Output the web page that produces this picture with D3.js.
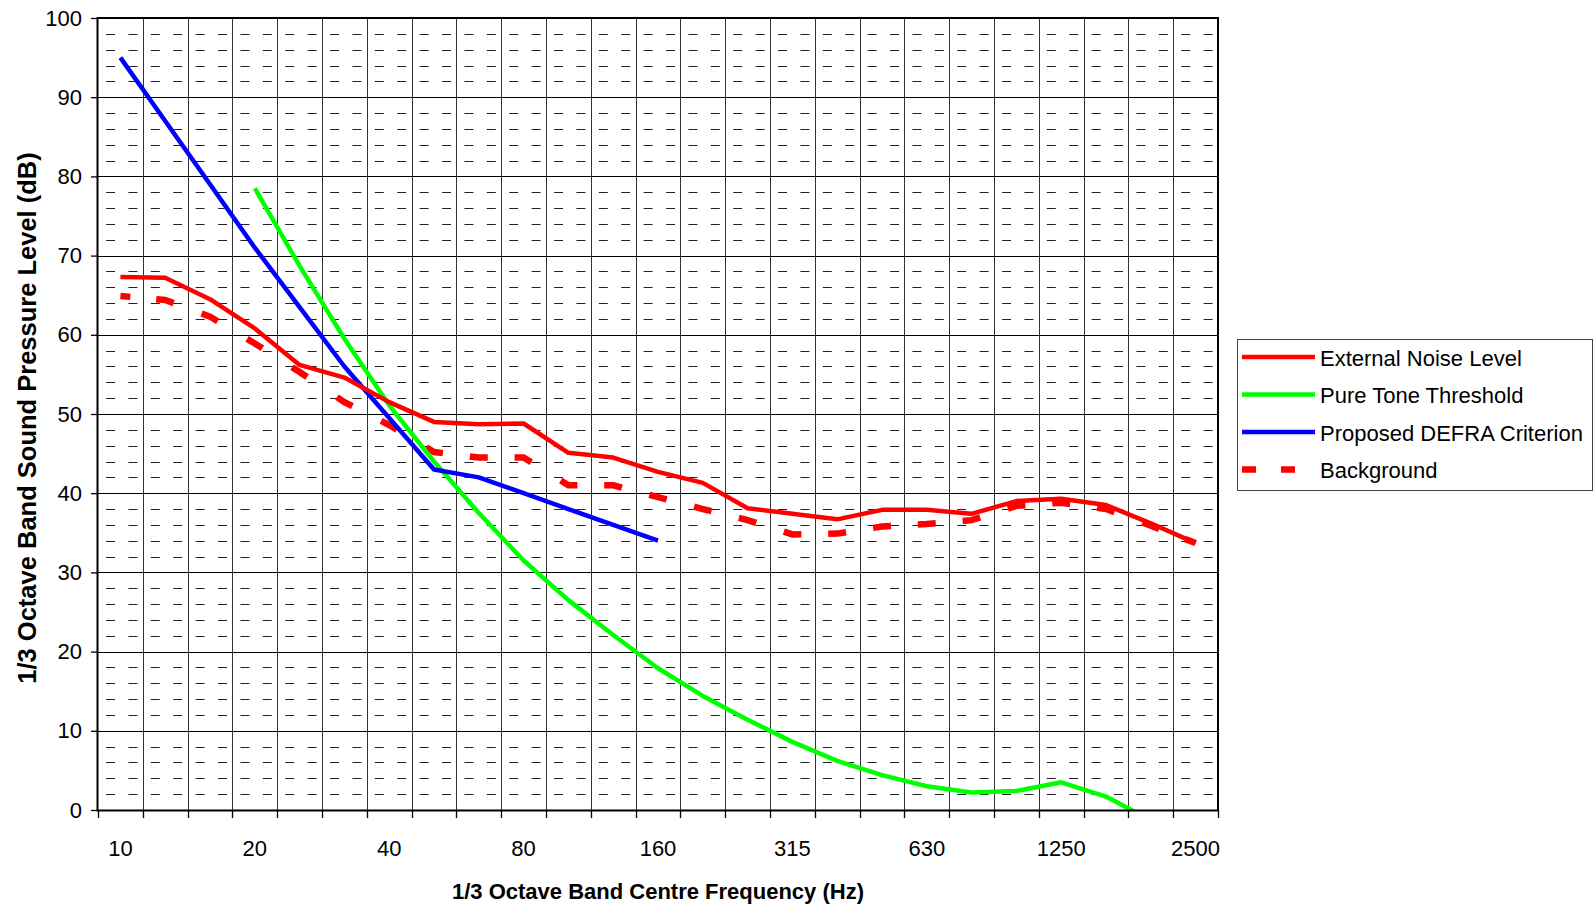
<!DOCTYPE html>
<html>
<head>
<meta charset="utf-8">
<script src="https://cdn.jsdelivr.net/npm/d3@7"></script>
<style>
  html, body { margin: 0; padding: 0; background: #fff; }
  svg { display: block; font-family: "Liberation Sans", Arial, Helvetica, sans-serif; }
</style>
</head>
<body>
<svg id="chart" width="1596" height="908"></svg>
<script>
// ---- data ----
const bands = ["10","12.5","16","20","25","31.5","40","50","63","80","100","125","160","200","250","315","400","500","630","800","1000","1250","1600","2000","2500"];
const tickLabels = ["10","20","40","80","160","315","630","1250","2500"];
const yTicks = [0,10,20,30,40,50,60,70,80,90,100];
const externalNoise = [67.3,67.2,64.5,60.8,56.2,54.6,51.5,49.0,48.7,48.8,45.1,44.5,42.7,41.3,38.1,37.4,36.7,37.9,37.9,37.4,39.0,39.3,38.5,36.2,33.7];
const pureTone = [null,null,null,78.5,68.7,59.5,51.1,44.0,37.5,31.5,26.5,22.1,17.9,14.4,11.4,8.6,6.2,4.4,3.0,2.2,2.4,3.5,1.7,-1.3,-4.2];
const defra = [95,87,79,71,63.5,56,49.5,43,42,40,38,36,34,null,null,null,null,null,null,null,null,null,null,null,null];
const background = [64.9,64.4,62.3,58.9,55.3,51.5,48.6,45.2,44.5,44.5,41.0,41.0,39.5,38.0,36.6,34.8,34.9,35.8,36.1,36.6,38.4,38.8,38.0,35.9,33.7];
const seriesNames = ["External Noise Level","Pure Tone Threshold","Proposed DEFRA Criterion","Background"];

// ---- layout ----
const L = 98, R = 1218, T = 18, B = 810;
const svg = d3.select("#chart");
const x = d3.scaleBand().domain(bands).range([L, R]).padding(0);
const y = d3.scaleLinear().domain([0, 100]).range([B, T]);
const cx = b => x(b) + x.bandwidth() / 2;

// clip
svg.append("defs").append("clipPath").attr("id", "plotclip")
  .append("rect").attr("x", L).attr("y", T).attr("width", R - L).attr("height", B - T);

// minor horizontal dashed grid
const minor = d3.range(2, 100, 2).filter(v => v % 10 !== 0);
svg.append("g").selectAll("line").data(minor).join("line")
  .attr("x1", L).attr("x2", R)
  .attr("y1", d => Math.round(y(d)) + 0.5).attr("y2", d => Math.round(y(d)) + 0.5)
  .attr("stroke", "#222").attr("stroke-width", 1)
  .attr("stroke-dasharray", `9 ${x.bandwidth()/2 - 9}`)
  .attr("stroke-dashoffset", x.bandwidth()/2 - 8);

// major horizontal grid
svg.append("g").selectAll("line").data(yTicks.filter(v => v > 0 && v < 100)).join("line")
  .attr("x1", L).attr("x2", R)
  .attr("y1", d => Math.round(y(d)) + 0.5).attr("y2", d => Math.round(y(d)) + 0.5)
  .attr("stroke", "#000").attr("stroke-width", 1);

// vertical grid at band boundaries
const bounds = d3.range(bands.length + 1).map(i => L + i * x.bandwidth());
svg.append("g").selectAll("line").data(bounds.slice(1, -1)).join("line")
  .attr("x1", d => Math.round(d) + 0.5).attr("x2", d => Math.round(d) + 0.5)
  .attr("y1", T).attr("y2", B)
  .attr("stroke", "#333").attr("stroke-width", 1);

// x tick marks
svg.append("g").selectAll("line").data(bounds).join("line")
  .attr("x1", d => Math.round(d) + 0.5).attr("x2", d => Math.round(d) + 0.5)
  .attr("y1", B).attr("y2", B + 8)
  .attr("stroke", "#000").attr("stroke-width", 1.3);

// x tick labels
svg.append("g").selectAll("text").data(tickLabels).join("text")
  .attr("x", d => cx(d)).attr("y", 848)
  .attr("text-anchor", "middle").attr("dominant-baseline", "central")
  .attr("font-size", 22).attr("fill", "#000").text(d => d);

// y axis
const yAxis = d3.axisLeft(y).tickValues(yTicks).tickSizeInner(7).tickSizeOuter(0).tickPadding(9);
const gy = svg.append("g").attr("transform", `translate(${L},0)`).call(yAxis);
gy.select(".domain").remove();
gy.selectAll("line").attr("stroke", "#000").attr("stroke-width", 1.3);
gy.selectAll("text").attr("font-size", 22).attr("fill", "#000")
  .attr("font-family", "'Liberation Sans', Arial, sans-serif");

// series lines
const line = d3.line()
  .defined(d => d.v !== null)
  .x(d => cx(d.b)).y(d => y(d.v));
const toPts = arr => arr.map((v, i) => ({ b: bands[i], v: v }));
const plot = svg.append("g").attr("clip-path", "url(#plotclip)");

// background dashed: dash centred on each data point
const bgPts = toPts(background);
const segLens = bgPts.slice(1).map((p, i) => {
  const a = bgPts[i];
  return Math.hypot(cx(p.b) - cx(a.b), y(p.v) - y(a.v));
});
const half = 9;
const dash = [half + 1];
segLens.forEach((len, i) => {
  const isFirst = i === 0, isLast = i === segLens.length - 1;
  const g = len - (isFirst ? half + 1 : half) - (isLast ? half + 2 : half);
  dash.push(Math.max(g, 1));
  dash.push(isLast ? half + 2 : 2 * half);
});
plot.append("path").datum(bgPts).attr("d", line)
  .attr("fill", "none").attr("stroke", "#ff0000").attr("stroke-width", 6.5)
  .attr("stroke-dasharray", dash.join(" "));

plot.append("path").datum(toPts(pureTone)).attr("d", line)
  .attr("fill", "none").attr("stroke", "#00ff00").attr("stroke-width", 4.5).attr("stroke-linejoin", "round");
plot.append("path").datum(toPts(defra)).attr("d", line)
  .attr("fill", "none").attr("stroke", "#0000ff").attr("stroke-width", 4.5).attr("stroke-linejoin", "round");
plot.append("path").datum(toPts(externalNoise)).attr("d", line)
  .attr("fill", "none").attr("stroke", "#ff0000").attr("stroke-width", 4.5).attr("stroke-linejoin", "round");

// plot border
svg.append("rect").attr("x", L - 0.5).attr("y", T).attr("width", R - L + 0.5).attr("height", B - T + 0.5)
  .attr("fill", "none").attr("stroke", "#000").attr("stroke-width", 2);

// axis titles
svg.append("text").attr("x", (L + R) / 2).attr("y", 899)
  .attr("text-anchor", "middle").attr("font-size", 22).attr("font-weight", "bold")
  .attr("fill", "#000").text("1/3 Octave Band Centre Frequency (Hz)");
svg.append("text").attr("transform", `translate(27,${(T + B) / 2 + 4}) rotate(-90)`)
  .attr("text-anchor", "middle").attr("dominant-baseline", "central")
  .attr("font-size", 25.5).attr("font-weight", "bold")
  .attr("fill", "#000").text("1/3 Octave Band Sound Pressure Level (dB)");

// legend
const lg = svg.append("g");
lg.append("rect").attr("x", 1237.5).attr("y", 339.5).attr("width", 355).attr("height", 151)
  .attr("fill", "#fff").attr("stroke", "#444").attr("stroke-width", 1);
const legColors = ["#ff0000", "#00ff00", "#0000ff", "#ff0000"];
const rowY = [357, 394.5, 432, 469.5];
seriesNames.forEach((name, i) => {
  const ln = lg.append("line").attr("x1", 1242).attr("x2", 1315)
    .attr("y1", rowY[i]).attr("y2", rowY[i]).attr("stroke", legColors[i]);
  if (i === 3) ln.attr("stroke-width", 6.5).attr("stroke-dasharray", "14 25");
  else ln.attr("stroke-width", 4.5);
  lg.append("text").attr("x", 1320).attr("y", rowY[i] + 1)
    .attr("dominant-baseline", "central").attr("font-size", 22).attr("fill", "#000").text(name);
});
</script>
</body>
</html>
